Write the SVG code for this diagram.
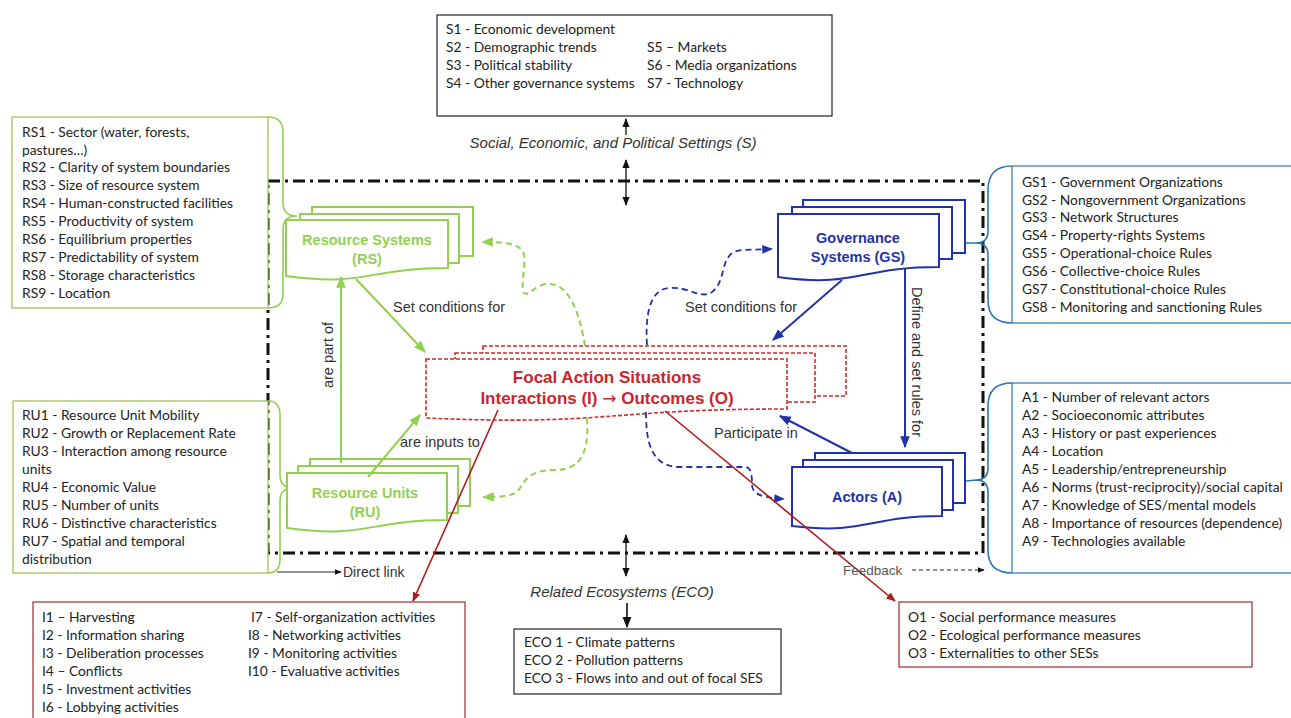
<svg xmlns="http://www.w3.org/2000/svg" width="1291" height="718" viewBox="0 0 1291 718">
<defs>
<marker id="mk" viewBox="0 0 10 10" refX="9" refY="5" markerWidth="7" markerHeight="7" orient="auto-start-reverse"><path d="M0,1 L10,5 L0,9 Z" fill="#111"/></marker>
<marker id="mg" viewBox="0 0 10 10" refX="9" refY="5" markerWidth="6" markerHeight="6" orient="auto"><path d="M0,1 L10,5 L0,9 Z" fill="#92d050"/></marker>
<marker id="mb" viewBox="0 0 10 10" refX="9" refY="5" markerWidth="6" markerHeight="6" orient="auto"><path d="M0,1 L10,5 L0,9 Z" fill="#2233aa"/></marker>
<marker id="mr" viewBox="0 0 10 10" refX="9" refY="5" markerWidth="6" markerHeight="6" orient="auto"><path d="M0,1 L10,5 L0,9 Z" fill="#b01c1c"/></marker>
</defs>
<style>
.bt{font-family:Lato,"Liberation Sans",sans-serif;font-size:13.8px;fill:#222}
.lb{font-family:"Liberation Sans",Arial,sans-serif;font-size:14.5px;fill:#333}
.it{font-family:"Liberation Sans",Arial,sans-serif;font-size:15px;font-style:italic;fill:#333}
.gbox{fill:#fff;stroke:#9bbb59;stroke-width:1.2}
.bbox{fill:#fff;stroke:#2e75b6;stroke-width:1.2}
.rbox{fill:#fff;stroke:#a0282d;stroke-width:1.2}
.kbox{fill:#fff;stroke:#222;stroke-width:1.2}
.gsh{fill:#fff;stroke:#92d050;stroke-width:2}
.bsh{fill:#fff;stroke:#2233aa;stroke-width:2}
.rsh{fill:#fff;stroke:#d0282d;stroke-width:1.6;stroke-dasharray:4 2}
.gt{font-family:"Liberation Sans",Arial,sans-serif;font-size:14.5px;font-weight:bold;fill:#92d050;text-anchor:middle}
.bt2{font-family:"Liberation Sans",Arial,sans-serif;font-size:14.5px;font-weight:bold;fill:#2233aa;text-anchor:middle}
.rt{font-family:"Liberation Sans",Arial,sans-serif;font-size:17px;font-weight:bold;fill:#c8262d;text-anchor:middle}
.brg{fill:none;stroke:#92d050;stroke-width:1.6}
.brb{fill:none;stroke:#2e75b6;stroke-width:1.6}
</style>

<!-- system boundary -->
<rect id="boundary" x="268" y="181" width="715" height="372" fill="none" stroke="#111" stroke-width="3" stroke-dasharray="12 5 3 5"/>

<g id="settings">
<rect class="kbox" x="437" y="15" width="395" height="101"/>
<text class="bt" x="446" y="34">S1 - Economic development</text>
<text class="bt" x="446" y="52">S2 - Demographic trends</text>
<text class="bt" x="446" y="70">S3 - Political stability</text>
<text class="bt" x="446" y="88">S4 - Other governance systems</text>
<text class="bt" x="647" y="52">S5 – Markets</text>
<text class="bt" x="647" y="70">S6 - Media organizations</text>
<text class="bt" x="647" y="88">S7 - Technology</text>
<text class="it" x="613" y="148" text-anchor="middle">Social, Economic, and Political Settings (S)</text>
</g>

<g id="rs-box">
<rect class="gbox" x="12" y="117" width="256" height="191"/>
<text class="bt" x="22" y="137">RS1 - Sector (water, forests,</text>
<text class="bt" x="22" y="155">pastures…)</text>
<text class="bt" x="22" y="172">RS2 - Clarity of system boundaries</text>
<text class="bt" x="22" y="190">RS3 - Size of resource system</text>
<text class="bt" x="22" y="208">RS4 - Human-constructed facilities</text>
<text class="bt" x="22" y="226">RS5 - Productivity of system</text>
<text class="bt" x="22" y="244">RS6 - Equilibrium properties</text>
<text class="bt" x="22" y="262">RS7 - Predictability of system</text>
<text class="bt" x="22" y="280">RS8 - Storage characteristics</text>
<text class="bt" x="22" y="298">RS9 - Location</text>
<path class="brg" d="M268,117 Q283,117 283,132 L283,203 Q283,216 297,216 Q283,216 283,229 L283,294 Q283,308 268,308"/>
</g>

<g id="ru-box">
<rect class="gbox" x="13" y="401" width="255" height="172"/>
<text class="bt" x="22" y="420">RU1 - Resource Unit Mobility</text>
<text class="bt" x="22" y="438">RU2 - Growth or Replacement Rate</text>
<text class="bt" x="22" y="456">RU3 - Interaction among resource</text>
<text class="bt" x="22" y="474">units</text>
<text class="bt" x="22" y="492">RU4 - Economic Value</text>
<text class="bt" x="22" y="510">RU5 - Number of units</text>
<text class="bt" x="22" y="528">RU6 - Distinctive characteristics</text>
<text class="bt" x="22" y="546">RU7 - Spatial and temporal</text>
<text class="bt" x="22" y="564">distribution</text>
<path class="brg" d="M268,401 Q280,401 280,415 L280,475 Q280,488 293,488 Q280,488 280,501 L280,559 Q280,573 268,573"/>
</g>

<g id="gs-box">
<rect class="bbox" x="1012" y="166" width="285" height="157"/>
<text class="bt" x="1022" y="187">GS1 - Government Organizations</text>
<text class="bt" x="1022" y="205">GS2 - Nongovernment Organizations</text>
<text class="bt" x="1022" y="222">GS3 - Network Structures</text>
<text class="bt" x="1022" y="240">GS4 - Property-rights Systems</text>
<text class="bt" x="1022" y="258">GS5 - Operational-choice Rules</text>
<text class="bt" x="1022" y="276">GS6 - Collective-choice Rules</text>
<text class="bt" x="1022" y="294">GS7 - Constitutional-choice Rules</text>
<text class="bt" x="1022" y="312">GS8 - Monitoring and sanctioning Rules</text>
<path class="brb" d="M1012,166 Q988,166 988,190 L988,231 Q988,243 976,243 Q988,243 988,255 L988,300 Q988,323 1012,323 M957,243 L976,243"/>
</g>

<g id="a-box">
<rect class="bbox" x="1012" y="383" width="285" height="190"/>
<text class="bt" x="1022" y="402">A1 - Number of relevant actors</text>
<text class="bt" x="1022" y="420">A2 - Socioeconomic attributes</text>
<text class="bt" x="1022" y="438">A3 - History or past experiences</text>
<text class="bt" x="1022" y="456">A4 - Location</text>
<text class="bt" x="1022" y="474">A5 - Leadership/entrepreneurship</text>
<text class="bt" x="1022" y="492">A6 - Norms (trust-reciprocity)/social capital</text>
<text class="bt" x="1022" y="510">A7 - Knowledge of SES/mental models</text>
<text class="bt" x="1022" y="528">A8 - Importance of resources (dependence)</text>
<text class="bt" x="1022" y="546">A9 - Technologies available</text>
<path class="brb" d="M1012,383 Q988,383 988,406 L988,468 Q988,480 976,480 Q988,480 988,492 L988,550 Q988,573 1012,573 M957,482 L976,480"/>
</g>

<g id="i-box">
<rect class="rbox" x="33" y="602" width="432" height="130"/>
<text class="bt" x="42" y="622">I1 – Harvesting</text>
<text class="bt" x="42" y="640">I2 - Information sharing</text>
<text class="bt" x="42" y="658">I3 - Deliberation processes</text>
<text class="bt" x="42" y="676">I4 – Conflicts</text>
<text class="bt" x="42" y="694">I5 - Investment activities</text>
<text class="bt" x="42" y="712">I6 - Lobbying activities</text>
<text class="bt" x="251" y="622">I7 - Self-organization activities</text>
<text class="bt" x="248" y="640">I8 - Networking activities</text>
<text class="bt" x="248" y="658">I9 - Monitoring activities</text>
<text class="bt" x="248" y="676">I10 - Evaluative activities</text>
</g>

<g id="eco-box">
<text class="it" x="622" y="597" text-anchor="middle">Related Ecosystems (ECO)</text>
<rect class="kbox" x="514" y="629" width="267" height="65"/>
<text class="bt" x="524" y="647">ECO 1 - Climate patterns</text>
<text class="bt" x="524" y="665">ECO 2 - Pollution patterns</text>
<text class="bt" x="524" y="683">ECO 3 - Flows into and out of focal SES</text>
</g>

<g id="o-box">
<rect class="rbox" x="899" y="602" width="353" height="65"/>
<text class="bt" x="908" y="622">O1 - Social performance measures</text>
<text class="bt" x="908" y="640">O2 - Ecological performance measures</text>
<text class="bt" x="908" y="658">O3 - Externalities to other SESs</text>
</g>

<g id="rs-node">
<rect class="gsh" x="312" y="207" width="161" height="49"/>
<rect class="gsh" x="300" y="214" width="159" height="49"/>
<path class="gsh" d="M286,220 H448 V268 C367,268 367,287 286,276 Z"/>
<text class="gt" x="367" y="245">Resource Systems</text>
<text class="gt" x="367" y="264">(RS)</text>
</g>

<g id="ru-node">
<rect class="gsh" x="310" y="459" width="160" height="47"/>
<rect class="gsh" x="298" y="466" width="160" height="47"/>
<path class="gsh" d="M287,473 H447 V520 C367,520 367,539 287,528 Z"/>
<text class="gt" x="365" y="498">Resource Units</text>
<text class="gt" x="365" y="517">(RU)</text>
</g>

<g id="gs-node">
<rect class="bsh" x="803" y="200" width="162" height="53"/>
<rect class="bsh" x="792" y="207" width="160" height="52"/>
<path class="bsh" d="M778,214 H939 V267 C858,267 858,288 778,277 Z"/>
<text class="bt2" x="858" y="243">Governance</text>
<text class="bt2" x="858" y="262">Systems (GS)</text>
</g>

<g id="a-node">
<rect class="bsh" x="815" y="453" width="150" height="50"/>
<rect class="bsh" x="803" y="460" width="150" height="50"/>
<path class="bsh" d="M792,467 H942 V516 C867,516 867,535 792,526 Z"/>
<text class="bt2" x="867" y="502">Actors (A)</text>
</g>

<g id="focal-node">
<rect class="rsh" x="483" y="346" width="363" height="50"/>
<rect class="rsh" x="455" y="353" width="360" height="49"/>
<path class="rsh" d="M426,359 H787 V409 C606,409 606,426 426,418 Z"/>
<text class="rt" x="607" y="383">Focal Action Situations</text>
<text class="rt" x="607" y="404">Interactions (I) <tspan style="font-family:'DejaVu Sans',sans-serif;font-weight:normal">→</tspan> Outcomes (O)</text>
</g>

<g id="connectors" fill="none">
<path d="M626,135 L626,119" stroke="#111" stroke-width="1.3" marker-end="url(#mk)"/>
<path d="M626,160 L626,205" stroke="#111" stroke-width="1.3" marker-start="url(#mk)" marker-end="url(#mk)"/>
<path d="M626,535 L626,576" stroke="#111" stroke-width="1.3" marker-start="url(#mk)" marker-end="url(#mk)"/>
<path d="M627,603 L627,627" stroke="#111" stroke-width="1.6" marker-end="url(#mk)"/>
<path d="M277,572 L341,572" stroke="#222" stroke-width="1" marker-end="url(#mk)"/>
<path d="M912,570 L984,570" stroke="#222" stroke-width="1" stroke-dasharray="4 3" marker-end="url(#mk)"/>
<path d="M356,279 L425,352" stroke="#92d050" stroke-width="2" marker-end="url(#mg)"/>
<path d="M341,463 L341,277" stroke="#92d050" stroke-width="2" marker-end="url(#mg)"/>
<path d="M368,477 L420,415" stroke="#92d050" stroke-width="2" marker-end="url(#mg)"/>
<path d="M585,346 C580,315 570,285 550,284 C535,283 530,297 524,293 C520,290 526,265 524,255 C522,245 510,242 482,242" stroke="#92d050" stroke-width="2" stroke-dasharray="6 4" marker-end="url(#mg)"/>
<path d="M587,418 C590,460 575,470 555,470 C530,470 525,480 520,488 C515,497 500,497 483,497" stroke="#92d050" stroke-width="2" stroke-dasharray="6 4" marker-end="url(#mg)"/>
<path d="M842,280 L773,340" stroke="#2233aa" stroke-width="2" marker-end="url(#mb)"/>
<path d="M905,268 L905,447" stroke="#2233aa" stroke-width="2" marker-end="url(#mb)"/>
<path d="M852,453 L780,416" stroke="#2233aa" stroke-width="2" marker-end="url(#mb)"/>
<path d="M647,345 C645,315 650,290 668,288 C690,286 700,300 712,292 C728,280 718,252 742,250 L772,249" stroke="#2233aa" stroke-width="1.8" stroke-dasharray="6 4" marker-end="url(#mb)"/>
<path d="M646,412 C646,440 650,467 680,467 L745,467 C752,467 752,478 752,485 C752,495 765,498 784,499" stroke="#2233aa" stroke-width="1.8" stroke-dasharray="6 4" marker-end="url(#mb)"/>
<path d="M498,410 L413,601" stroke="#b01c1c" stroke-width="1.6" marker-end="url(#mr)"/>
<path d="M665,411 L895,601" stroke="#b01c1c" stroke-width="1.6" marker-end="url(#mr)"/>
</g>

<g id="labels">
<text class="lb" x="393" y="312">Set conditions for</text>
<text class="lb" x="685" y="312">Set conditions for</text>
<text class="lb" x="400" y="447">are inputs to</text>
<text class="lb" x="714" y="438">Participate in</text>
<text class="lb" transform="translate(333,355) rotate(-90)" text-anchor="middle">are part of</text>
<text class="lb" transform="translate(912,362) rotate(90)" text-anchor="middle">Define and set rules for</text>
<text class="lb" x="343" y="577" style="font-size:14px">Direct link</text>
<text class="lb" x="843" y="575" style="font-size:13.5px;fill:#555">Feedback</text>
</g>
</svg>
